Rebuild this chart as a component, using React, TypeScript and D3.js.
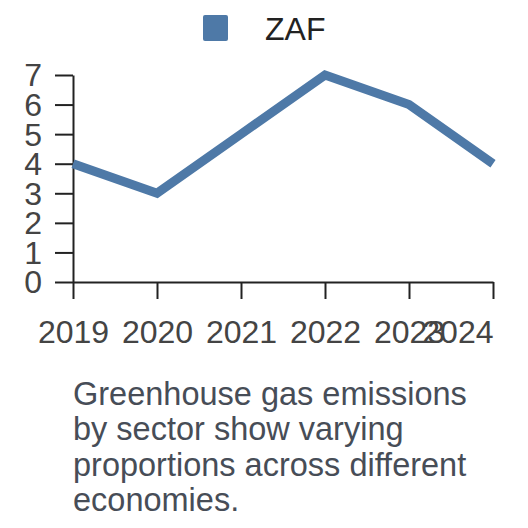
import React, { useEffect, useRef } from "react";
import * as d3 from "d3";

const years = ["2019", "2020", "2021", "2022", "2023", "2024"];
const values = [4, 3, 5, 7, 6, 4];
const yTicks = [0, 1, 2, 3, 4, 5, 6, 7];
const seriesName = "ZAF";
const captionLines = [
  "Greenhouse gas emissions",
  "by sector show varying",
  "proportions across different",
  "economies.",
];

const W = 528;
const H = 528;
const color = "#4e79a7";
const font = "'Liberation Sans', Arial, sans-serif";

export default function App() {
  const ref = useRef<SVGSVGElement | null>(null);

  useEffect(() => {
    const svg = d3.select(ref.current);
    svg.selectAll("*").remove();

    const x = d3.scalePoint<string>().domain(years).range([73, 493]);
    const y = d3.scaleLinear().domain([0, 7]).range([282, 75]);

    // legend
    const lg = svg.append("g");
    lg.append("rect")
      .attr("x", 203).attr("y", 15).attr("width", 25).attr("height", 26)
      .attr("rx", 2).attr("fill", color);
    lg.append("text")
      .attr("x", 265).attr("y", 40)
      .attr("font-family", font).attr("font-size", 32).attr("fill", "#222")
      .text(seriesName);

    // y axis
    const ya = svg.append("g").attr("transform", "translate(73,0)")
      .call(
        d3.axisLeft(y).tickValues(yTicks).tickFormat(d3.format("d"))
          .tickSize(18).tickPadding(13).tickSizeOuter(0)
      );
    ya.select(".domain").attr("stroke", "#222").attr("stroke-width", 2);
    ya.selectAll(".tick line").attr("stroke", "#222").attr("stroke-width", 2);
    ya.selectAll(".tick text")
      .attr("font-family", font).attr("font-size", 32).attr("fill", "#444")
      .attr("dy", "0.34em");

    // x axis
    const xa = svg.append("g").attr("transform", "translate(0,282)")
      .call(d3.axisBottom(x).tickSize(17).tickPadding(21).tickSizeOuter(0));
    xa.select(".domain").attr("stroke", "#222").attr("stroke-width", 2);
    xa.selectAll(".tick line").attr("stroke", "#222").attr("stroke-width", 2);
    xa.selectAll(".tick text")
      .attr("font-family", font).attr("font-size", 32).attr("fill", "#444")
      .attr("dy", "0.71em")
      .attr("text-anchor", (_d: any, i: number) => (i === years.length - 1 ? "end" : "middle"));

    // line
    const line = d3.line<number>()
      .x((_d, i) => x(years[i]) as number)
      .y((d) => y(d));
    svg.append("path")
      .datum(values)
      .attr("d", line)
      .attr("fill", "none")
      .attr("stroke", color)
      .attr("stroke-width", 9);

    // caption
    const cap = svg.append("text")
      .attr("font-family", font).attr("font-size", 32.5).attr("fill", "#474d57");
    captionLines.forEach((t, i) => {
      cap.append("tspan").attr("x", 73).attr("y", 405 + i * 35.3).text(t);
    });
  }, []);

  return (
    <svg
      ref={ref}
      width={W}
      height={H}
      style={{ position: "absolute", left: 0, top: 0, background: "#fff" }}
    />
  );
}
